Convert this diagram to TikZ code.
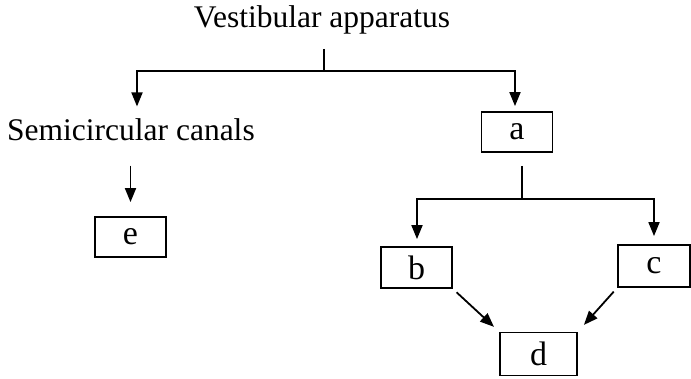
\documentclass[tikz,border=0pt]{standalone}
\usepackage{fontspec}
\setmainfont{Liberation Serif}
\usetikzlibrary{arrows.meta}
\begin{document}
\begin{tikzpicture}[x=1pt,y=-1pt,
  conn/.style={line width=1.8pt, black},
  arr/.style={conn, -{Triangle[length=14pt,width=11pt]}},
  label/.style={font=\fontsize{31.5}{36}\selectfont, inner sep=0pt},
  box/.style={draw, line width=1.8pt, inner sep=0pt,
    font=\fontsize{34}{38}\selectfont},
]
\clip (0,0) rectangle (691,379);

% headings
\node[label, anchor=base] (va) at (322,28) {Vestibular apparatus};
\node[label, anchor=base west] (sc) at (7,141) {Semicircular canals};

% boxes
\node[box, minimum width=71pt, minimum height=40pt] (a) at (517,132) {a};
\node[box, minimum width=71pt, minimum height=40pt] (e) at (130.5,237) {e};
\node[box, minimum width=71pt, minimum height=41pt] (b) at (416.5,267.5) {b};
\node[box, minimum width=72pt, minimum height=42pt] (c) at (654,266) {c};
\node[box, minimum width=77pt, minimum height=43pt] (d) at (538.5,354) {d};

% branch points
\coordinate (j1) at (324,71);
\coordinate (j1l) at (137,71);
\coordinate (j1r) at (515,71);
\coordinate (j2) at (522,199);
\coordinate (j2l) at (417,199);
\coordinate (j2r) at (654,199);

% first split
\draw[conn, shorten <=14pt] (va.south -| j1) -- (j1);
\draw[arr, shorten >=12.5pt] (j1) -- (j1l) -- (sc.north -| j1l);
\draw[arr, shorten >=5pt] (j1) -- (j1r) -- (a.north -| j1r);

% semicircular canals to e
\draw[arr, shorten <=24pt, shorten >=14pt] (sc.south -| e.north) -- (e.north);

% second split
\draw[conn, shorten <=13pt] (a.south -| j2) -- (j2);
\draw[arr, shorten >=7pt] (j2) -- (j2l) -- (b.north -| j2l);
\draw[arr, shorten >=8pt] (j2) -- (j2r) -- (c.north);

% convergence on d
\draw[arr, shorten <=5pt, shorten >=7pt] (b.south east) -- (d.north west);
\draw[arr, shorten <=5pt, shorten >=9pt] (c.south west) -- (d.north east);
\end{tikzpicture}
\end{document}
